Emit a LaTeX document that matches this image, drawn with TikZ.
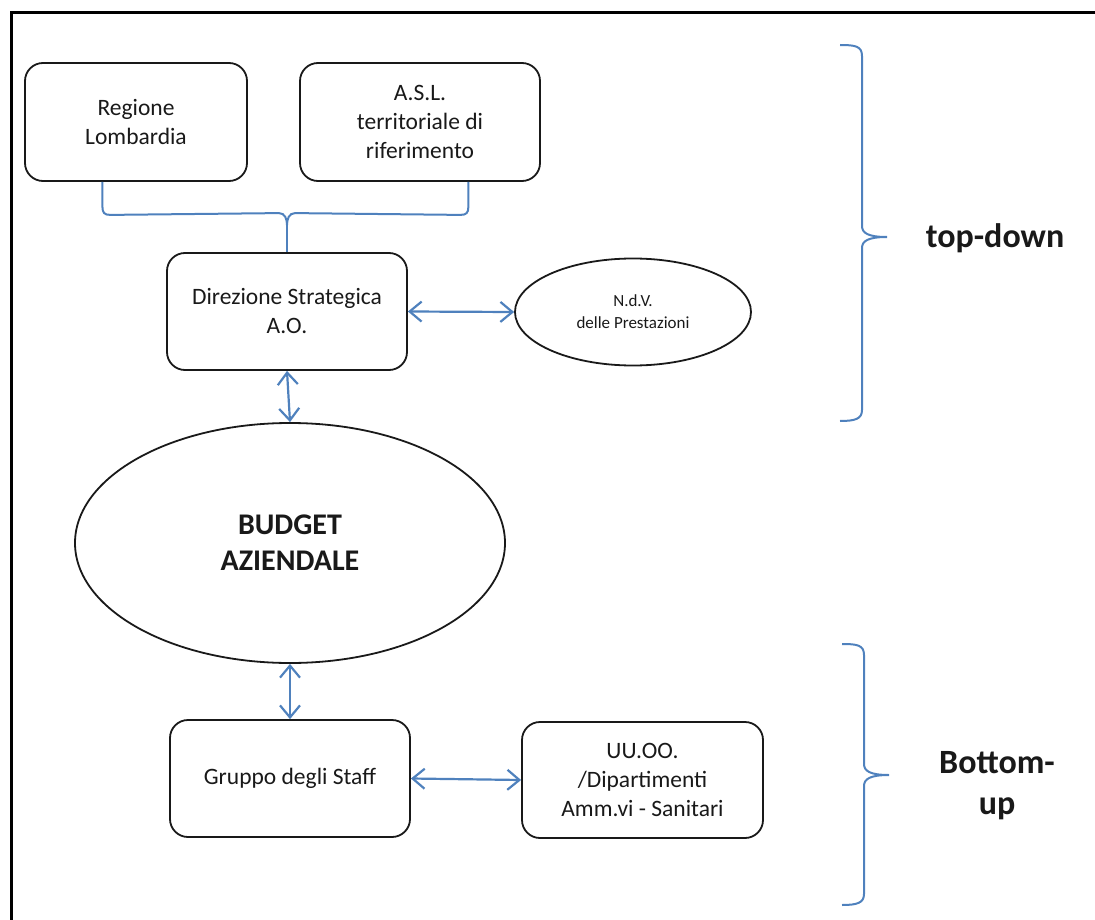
\documentclass[tikz,border=0pt]{standalone}
\usepackage{fontspec}
\setmainfont{Carlito}
\usetikzlibrary{arrows.meta,shapes.geometric,calc}
\definecolor{linkblue}{RGB}{79,129,189}
\definecolor{ink}{RGB}{25,25,25}
\begin{document}
\begin{tikzpicture}[x=1pt,y=-1pt,
  roundbox/.style={draw=ink,line width=1.8pt,rounded corners=18pt,inner sep=0pt,
    align=center,text=ink,font=\fontsize{23.5}{29}\selectfont},
  oval/.style={ellipse,draw=ink,line width=1.8pt,inner sep=0pt,align=center,text=ink},
  link/.style={draw=linkblue,line width=2.2pt,
    {Straight Barb[length=12pt,width=20pt]}-{Straight Barb[length=12pt,width=20pt]}},
  bluestroke/.style={draw=linkblue,line width=2pt},
  sidelabel/.style={align=center,text=ink,font=\fontsize{34}{41}\selectfont\bfseries}]
\useasboundingbox (0,0) rectangle (1095,920);

% outer frame (top and left edges)
\draw[line width=3pt,black] (11,920) -- (11,13) -- (1095,13);

% boxes
\node[roundbox,minimum width=222pt,minimum height=118pt] (reg) at (136,122) {Regione\\Lombardia};
\node[roundbox,minimum width=240pt,minimum height=118pt] (asl) at (420,122) {A.S.L.\\territoriale di\\riferimento};
\node[roundbox,minimum width=240pt,minimum height=117pt] (dir) at (287,311.5) {Direzione Strategica\\A.O.};
\node[oval,minimum width=236pt,minimum height=107pt,font=\fontsize{17}{22}\selectfont] (ndv) at (633,312) {N.d.V.\\delle Prestazioni};
\node[oval,minimum width=430pt,minimum height=240pt,font=\fontsize{30}{36}\selectfont\bfseries] (bud) at (290,543) {BUDGET\\AZIENDALE};
\node[roundbox,minimum width=240pt,minimum height=117pt] (grp) at (290,778.5) {Gruppo degli Staff};
\node[roundbox,minimum width=241pt,minimum height=116pt] (uu) at (642.5,780) {UU.OO.\\/Dipartimenti\\Amm.vi - Sanitari};

% joining bracket from the two top boxes into the strategic direction
\coordinate (legL) at ($(reg.south west)!0.35!(reg.south east)$);
\coordinate (legR) at ($(asl.south west)!0.70!(asl.south east)$);
\coordinate (tip) at ($(dir.north)+(0,-27)$);
\draw[bluestroke] (legL) -- ++(0,25)
  .. controls +(0,6) and +(-6,0) .. ++(8,8) -- ($(tip)+(-8,-12)$)
  .. controls +(6,0) and +(0,-6) .. (tip)
  .. controls +(0,-6) and +(-6,0) .. ($(tip)+(8,-12)$) -- ($(legR)+(-8,33)$)
  .. controls +(6,0) and +(0,6) .. ($(legR)+(0,25)$) -- (legR);
\draw[bluestroke] (tip) -- (dir.north);

% two-way links
\draw[link] (dir.east) -- (ndv.west);
\draw[link] (dir.south) -- (bud.north);
\draw[link] (bud.south) -- (grp.north);
\draw[link] (grp.east) -- (uu.west);

% side braces
\draw[bluestroke] (840,45) .. controls (855,45) and (862,46) .. (862,56) -- (862,226)
  .. controls (862,233) and (868,237) .. (887,237)
  .. controls (868,237) and (862,241) .. (862,248) -- (862,410)
  .. controls (862,419) and (855,421) .. (840,421);
\draw[bluestroke] (842,644) .. controls (857,644) and (864,645) .. (864,655) -- (864,764)
  .. controls (864,771) and (870,775) .. (889,775)
  .. controls (870,775) and (864,779) .. (864,786) -- (864,894)
  .. controls (864,903) and (857,905) .. (842,905);

\node[sidelabel] (td) at (995,238) {top-down};
\node[sidelabel] (bu) at (997,786) {Bottom-\\up};
\end{tikzpicture}
\end{document}
